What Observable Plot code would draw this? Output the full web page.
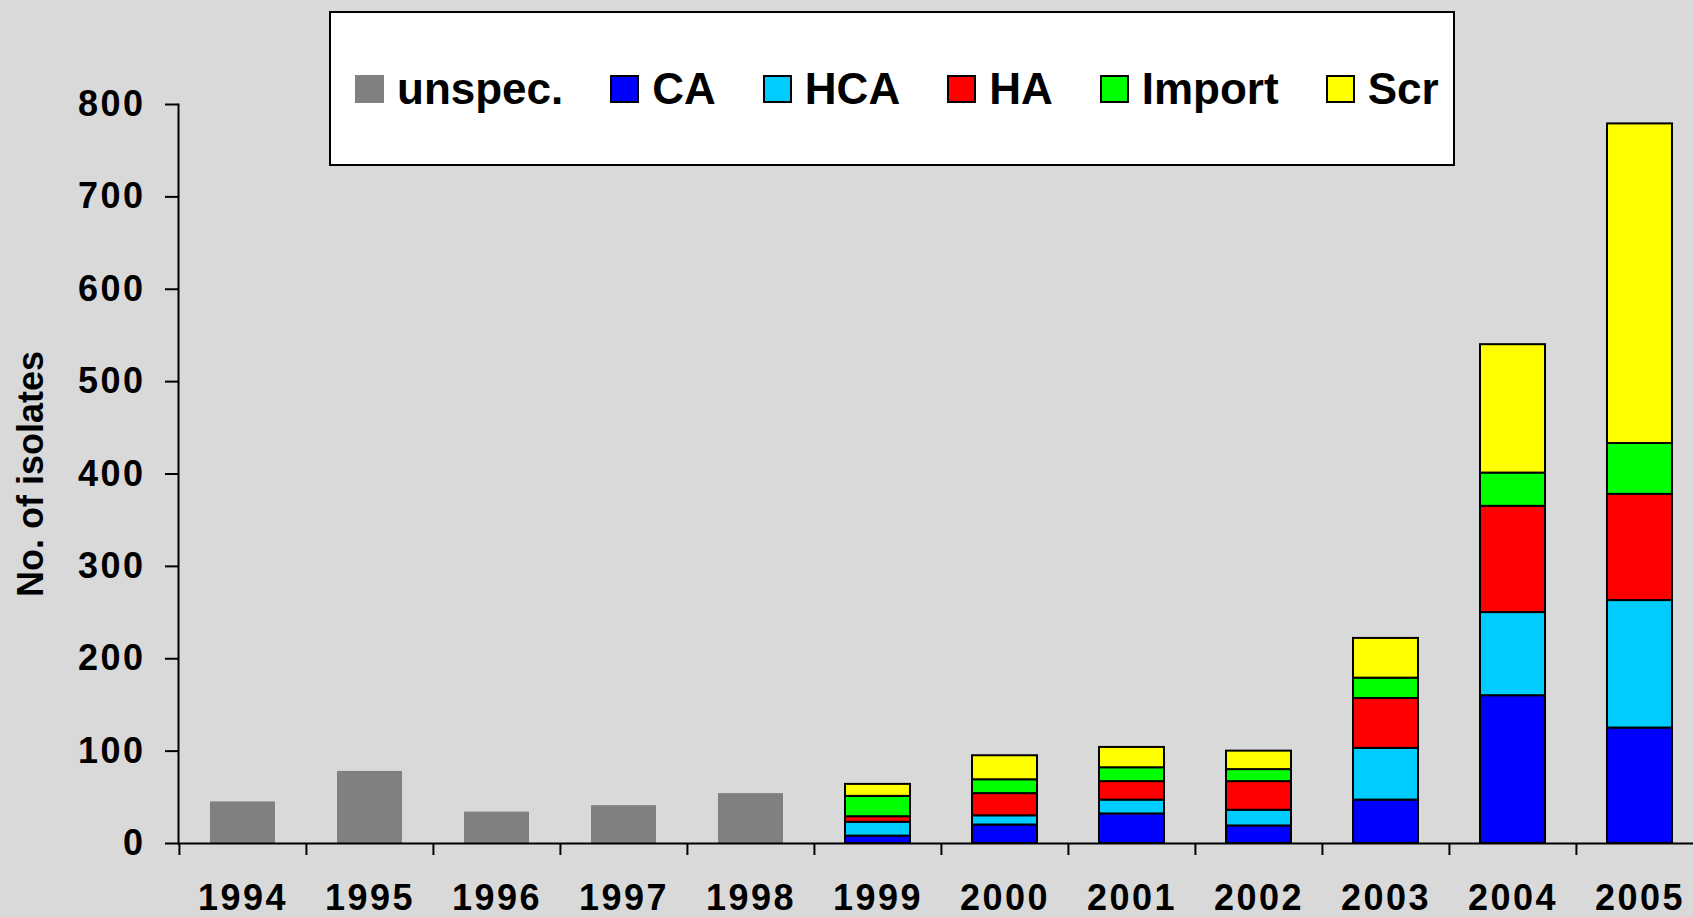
<!DOCTYPE html>
<html>
<head>
<meta charset="utf-8">
<script src="https://cdn.jsdelivr.net/npm/d3@7"></script>
<script src="https://cdn.jsdelivr.net/npm/@observablehq/plot@0.6"></script>
<style>
  html, body { margin: 0; padding: 0; background: #d9d9d9; }
  #wrap { position: relative; width: 1693px; height: 917px; overflow: hidden; font-family: "Liberation Sans", Arial, sans-serif; }
  #legend { position: absolute; left: 329px; top: 11px; width: 1126px; height: 155px; background: #fff; border: 2px solid #000;
            display: flex; align-items: center; padding-left: 24px; box-sizing: border-box; }
  .item { display: flex; align-items: center; margin-right: 47px; }
  .sw { width: 29px; height: 28px; box-sizing: border-box; margin-right: 13px; }
  .lab { font-weight: bold; font-size: 44px; line-height: 1; color: #000; }
  svg g[aria-label="x-axis tick label"] text, svg g[aria-label="y-axis tick label"] text { letter-spacing: 2.5px; }
</style>
</head>
<body>
<div id="wrap"><div id="chart"></div><div id="legend"></div></div>
<script>
const years  = ["1994","1995","1996","1997","1998","1999","2000","2001","2002","2003","2004","2005"];
const types  = ["unspec.", "CA", "HCA", "HA", "Import", "Scr"];
const colors = ["#808080", "#0000ff", "#00ccff", "#ff0000", "#00ff00", "#ffff00"];
const unspec = [45, 78, 34, 41, 54, 0, 0, 0, 0, 0, 0, 0];
const CA     = [0, 0, 0, 0, 0, 8, 20, 32, 19, 47, 160, 125];
const HCA    = [0, 0, 0, 0, 0, 15, 10, 15, 17, 56, 90, 138];
const HA     = [0, 0, 0, 0, 0, 6, 24, 20, 31, 54, 115, 115];
const Import = [0, 0, 0, 0, 0, 22, 15, 15, 13, 22, 36, 55];
const Scr    = [0, 0, 0, 0, 0, 13, 26, 22, 20, 43, 139, 346];
const yTicks = [0, 100, 200, 300, 400, 500, 600, 700, 800];

const series = [unspec, CA, HCA, HA, Import, Scr];
const rows = [];
years.forEach((yr, i) => {
  series.forEach((s, k) => {
    if (s[i] > 0) rows.push({year: yr, type: types[k], value: s[i]});
  });
});
const grayRows = rows.filter(d => d.type === "unspec.");
const stackRows = rows.filter(d => d.type !== "unspec.");

const W = 1693, H = 917, mL = 178, mR = -11, mT = 104, mB = 74;
const step = (W - mL - mR) / years.length;

const chart = Plot.plot({
  width: W, height: H,
  marginLeft: mL, marginRight: mR, marginTop: mT, marginBottom: mB,
  style: {background: "#d9d9d9", fontFamily: "'Liberation Sans', Arial, sans-serif", overflow: "hidden"},
  x: {domain: years, paddingInner: 0.49, paddingOuter: 0.245},
  y: {domain: [0, 800]},
  color: {domain: types, range: colors},
  marks: [
    Plot.barY(grayRows, {x: "year", y: "value", fill: "type"}),
    Plot.barY(stackRows, {x: "year", y: "value", fill: "type", stroke: "black", strokeWidth: 2}),
    Plot.ruleY([0], {stroke: "black", strokeWidth: 2}),
    Plot.frame({anchor: "left", stroke: "black", strokeWidth: 2}),
    Plot.tickX(years, {x: d => d, dx: -step / 2, stroke: "black", strokeWidth: 2, insetTop: H - mT - mB, insetBottom: -12}),
    Plot.axisY({ticks: yTicks, tickSize: 13, tickPadding: 20, fontSize: 36, fontWeight: "bold", fill: "black", strokeWidth: 2,
      label: "No. of isolates", labelAnchor: "center", labelArrow: "none", labelOffset: 161}),
    Plot.axisX({tickSize: 0, tickPadding: 41, fontSize: 36, fontWeight: "bold", fill: "black", label: null})
  ]
});
document.getElementById("chart").appendChild(chart);

const legend = document.getElementById("legend");
types.forEach((t, k) => {
  const item = document.createElement("div");
  item.className = "item";
  const sw = document.createElement("div");
  sw.className = "sw";
  sw.style.background = colors[k];
  if (t !== "unspec.") sw.style.border = "2px solid #000";
  const lab = document.createElement("span");
  lab.className = "lab";
  lab.textContent = t;
  item.appendChild(sw);
  item.appendChild(lab);
  legend.appendChild(item);
});
</script>
</body>
</html>
